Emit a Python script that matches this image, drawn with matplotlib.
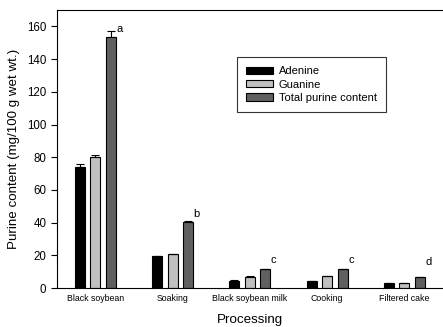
import numpy as np
import matplotlib
matplotlib.use('Agg')
import matplotlib.pyplot as plt

plt.rcParams['font.family'] = ['Liberation Sans', 'DejaVu Sans']

categories = ['Black soybean', 'Soaking', 'Black soybean milk', 'Cooking', 'Filtered cake']
adenine = [73.8, 19.6, 4.5, 4.3, 3.2]
guanine = [80.3, 20.6, 6.9, 7.3, 3.1]
total = [153.8, 40.4, 11.4, 11.4, 6.5]
adenine_err = [2.2, 0.3, 0.3, 0.3, 0.2]
guanine_err = [1.3, 0.3, 0.3, 0.3, 0.2]
total_err = [3.3, 0.4, 0.4, 0.4, 0.3]
letters = ['a', 'b', 'c', 'c', 'd']
letter_y = [158.5, 45.5, 17.0, 17.0, 16.0]

x = np.arange(len(categories))
w = 0.13

fig = plt.figure(figsize=(4.43, 3.27), dpi=100)
ax = fig.add_axes([0.128, 0.119, 0.872, 0.85])

ek = dict(elinewidth=0.8, capthick=0.8, capsize=3, ecolor='black')
ax.bar(x - 0.2, adenine, w, color='black', edgecolor='black', lw=0.8, label='Adenine',
       yerr=[[0]*5, adenine_err], error_kw=ek)
ax.bar(x, guanine, w, color='#c0c0c0', edgecolor='black', lw=0.8, label='Guanine',
       yerr=[[0]*5, guanine_err], error_kw=ek)
ax.bar(x + 0.2, total, w, color='#606060', edgecolor='black', lw=0.8, label='Total purine content',
       yerr=[[0]*5, total_err], error_kw=ek)

for xi, t, yy in zip(x, letters, letter_y):
    ax.text(xi + 0.31, yy, t, ha='center', va='center', fontsize=8)

ax.set_xlim(-0.5, 4.5)
ax.set_ylim(0, 170)
ax.set_yticks(range(0, 161, 20))
ax.set_xticks(x)
ax.set_xticklabels(categories, fontsize=6.3)
ax.tick_params(axis='x', length=0, pad=4)
ax.tick_params(axis='y', labelsize=8.3, length=4, width=0.8, direction='out')
ax.spines['right'].set_visible(False)
for s in ['left', 'bottom', 'top']:
    ax.spines[s].set_linewidth(0.8)

ax.set_ylabel('Purine content (mg/100 g wet wt.)', fontsize=9.6, labelpad=5)
ax.set_xlabel('Processing', fontsize=9.6, va='center')
ax.xaxis.set_label_coords(0.5, -0.115)

leg = ax.legend(loc='upper left', bbox_to_anchor=(0.452, 0.852), fontsize=8, frameon=True,
                fancybox=False, edgecolor='black', handlelength=2.4, handleheight=0.6,
                labelspacing=0.3, borderpad=0.85, handletextpad=0.5)
leg.get_frame().set_linewidth(0.8)

fig.savefig('out.png', dpi=100)
